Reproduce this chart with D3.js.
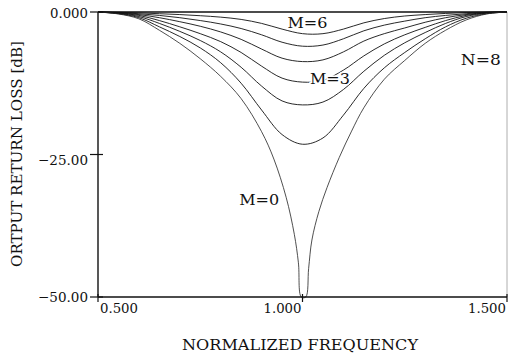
<!DOCTYPE html>
<html>
<head>
<meta charset="utf-8">
<script src="https://cdn.jsdelivr.net/npm/d3@7"></script>
<style>
  body { margin: 0; background: #fff; }
  svg { display: block; }
  text { font-family: "DejaVu Serif", "Liberation Serif", serif; fill: #111; }
</style>
</head>
<body>
<svg id="chart"></svg>
<script>
// Chart data
const freq = [0.50, 0.55, 0.60, 0.65, 0.70, 0.75, 0.80, 0.85, 0.90, 0.95, 1.00,
              1.05, 1.10, 1.15, 1.20, 1.25, 1.30, 1.35, 1.40, 1.45, 1.50];

const lossM6 = [0, -0.05, -0.15, -0.3, -0.45, -0.65, -0.9, -1.3, -2.0, -3.0, -3.8,
                -3.8, -3.0, -1.9, -1.15, -0.7, -0.45, -0.25, -0.1, -0.02, 0];
const lossM5 = [0, -0.1, -0.3, -0.6, -1.0, -1.5, -2.1, -2.9, -4.0, -5.3, -6.0,
                -5.8, -4.7, -3.3, -2.3, -1.6, -1.0, -0.6, -0.3, -0.06, 0];
const lossM4 = [0, -0.15, -0.45, -1.0, -1.7, -2.5, -3.5, -4.8, -6.5, -8.1, -8.7,
                -8.4, -7.0, -5.1, -3.8, -2.8, -1.8, -1.0, -0.45, -0.1, 0];
const lossM3 = [0, -0.2, -0.6, -1.5, -2.6, -3.8, -5.2, -7.1, -9.5, -11.6, -12.3,
                -12.0, -10.2, -7.7, -5.6, -4.0, -2.7, -1.5, -0.6, -0.15, 0];
const lossM2 = [0, -0.25, -0.8, -2.0, -3.4, -5.0, -7.0, -9.7, -13.0, -15.6, -16.3,
                -15.8, -13.6, -10.4, -7.6, -5.4, -3.6, -2.0, -0.8, -0.2, 0];
const lossM1 = [0, -0.3, -1.0, -2.6, -4.3, -6.3, -8.9, -12.5, -17.2, -21.5, -23.2,
                -22.1, -18.1, -13.4, -9.8, -7.1, -4.7, -2.6, -1.1, -0.3, 0];

// M = 0 has a deep null, so it gets its own frequency list
const freqM0 = [0.50, 0.55, 0.60, 0.65, 0.70, 0.75, 0.80, 0.85, 0.90, 0.93, 0.96,
                0.98, 0.99, 0.997, 1.008, 1.015, 1.023, 1.04, 1.06, 1.09, 1.12,
                1.15, 1.20, 1.25, 1.30, 1.35, 1.40, 1.45, 1.50];
const lossM0 = [0, -0.35, -1.2, -3.2, -5.5, -8.2, -11.3, -15.2, -21.0, -25.8, -32.5,
                -39, -44, -50, -50, -45, -40, -35, -30.8, -25.5, -20.9,
                -16.8, -11.8, -8.5, -5.5, -3.2, -1.4, -0.35, 0];

const xTicks = [0.5, 1.0, 1.5];
const xTickLabels = ["0.500", "1.000", "1.500"];
const yTicks = [0, -25, -50];
const yTickLabels = ["0.000", "\u221225.00", "\u221250.00"];

const curveLabels = [
  {text: "M=6", f: 1.012, db: -2.8},
  {text: "M=3", f: 1.067, db: -12.6},
  {text: "M=0", f: 0.894, db: -33.9},
  {text: "N=8", f: 1.436, db: -9.3}
];

// Set up dimensions and margins
const W = 510, H = 358;
const margin = {top: 12, right: 3, bottom: 61, left: 98};
const width = W - margin.left - margin.right,
      height = H - margin.top - margin.bottom;

const svg = d3.select("#chart")
    .attr("width", W)
    .attr("height", H);

const g = svg.append("g")
    .attr("transform", `translate(${margin.left},${margin.top})`);

const x = d3.scaleLinear().domain([0.5, 1.5]).range([0, width]);
const y = d3.scaleLinear().domain([0, -50]).range([0, height]);

// frame
g.append("line")
    .attr("x1", width).attr("x2", width)
    .attr("y1", 0).attr("y2", height)
    .attr("stroke", "#999").attr("stroke-width", 0.8);
g.append("line")
    .attr("x1", 0).attr("x2", width)
    .attr("y1", 0).attr("y2", 0)
    .attr("stroke", "#111").attr("stroke-width", 1.3);

// curves
const line = d3.line()
    .x(d => x(d[0]))
    .y(d => y(Math.max(d[1], -50)))
    .curve(d3.curveCatmullRom.alpha(0.5));

const series = [lossM6, lossM5, lossM4, lossM3, lossM2, lossM1];
series.forEach(s => {
  g.append("path")
      .datum(freq.map((f, i) => [f, s[i]]))
      .attr("d", line)
      .attr("fill", "none")
      .attr("stroke", "#111")
      .attr("stroke-width", 0.9);
});

g.append("path")
    .datum(freqM0.map((f, i) => [f, lossM0[i]]))
    .attr("d", line)
    .attr("fill", "none")
    .attr("stroke", "#222")
    .attr("stroke-width", 0.8);

// axes
g.append("line")
    .attr("x1", 0).attr("x2", 0).attr("y1", 0).attr("y2", height)
    .attr("stroke", "#111").attr("stroke-width", 1.4);
g.append("line")
    .attr("x1", 0).attr("x2", width).attr("y1", height).attr("y2", height)
    .attr("stroke", "#111").attr("stroke-width", 1.4);

// y ticks
const yLabelShift = [6, 10, 5];
yTicks.forEach((t, i) => {
  g.append("line")
      .attr("x1", -8).attr("x2", 5)
      .attr("y1", y(t)).attr("y2", y(t))
      .attr("stroke", "#111").attr("stroke-width", 1.2);
  g.append("text")
      .attr("x", -10)
      .attr("y", y(t) + yLabelShift[i])
      .attr("text-anchor", "end")
      .attr("font-size", 13.5)
      .attr("textLength", i === 0 ? 38 : 50)
      .attr("lengthAdjust", "spacingAndGlyphs")
      .text(yTickLabels[i]);
});

// x ticks
xTicks.forEach((t, i) => {
  g.append("line")
      .attr("x1", x(t)).attr("x2", x(t))
      .attr("y1", height - 3).attr("y2", height + 5)
      .attr("stroke", "#111").attr("stroke-width", 1.2);
  g.append("text")
      .attr("x", i === 0 ? x(t) + 2 : x(t) - 1)
      .attr("y", height + 16)
      .attr("text-anchor", i === 0 ? "start" : "end")
      .attr("font-size", 13.5)
      .attr("textLength", 38)
      .attr("lengthAdjust", "spacingAndGlyphs")
      .text(xTickLabels[i]);
});

// axis titles
svg.append("text")
    .attr("x", 300)
    .attr("y", 350)
    .attr("text-anchor", "middle")
    .attr("font-size", 14.5)
    .attr("textLength", 236)
    .attr("lengthAdjust", "spacingAndGlyphs")
    .text("NORMALIZED FREQUENCY");

svg.append("text")
    .attr("transform", "translate(22,154) rotate(-90)")
    .attr("text-anchor", "middle")
    .attr("font-size", 14.5)
    .attr("textLength", 226)
    .attr("lengthAdjust", "spacingAndGlyphs")
    .text("ORTPUT RETURN LOSS [dB]");

// curve labels (white halo so the label breaks the curve, as in the original)
curveLabels.forEach(d => {
  g.append("text")
      .attr("x", x(d.f))
      .attr("y", y(d.db))
      .attr("text-anchor", "middle")
      .attr("font-size", 15)
      .attr("textLength", 40)
      .attr("lengthAdjust", "spacingAndGlyphs")
      .attr("stroke", "#fff")
      .attr("stroke-width", 3)
      .attr("paint-order", "stroke")
      .text(d.text);
});
</script>
</body>
</html>
